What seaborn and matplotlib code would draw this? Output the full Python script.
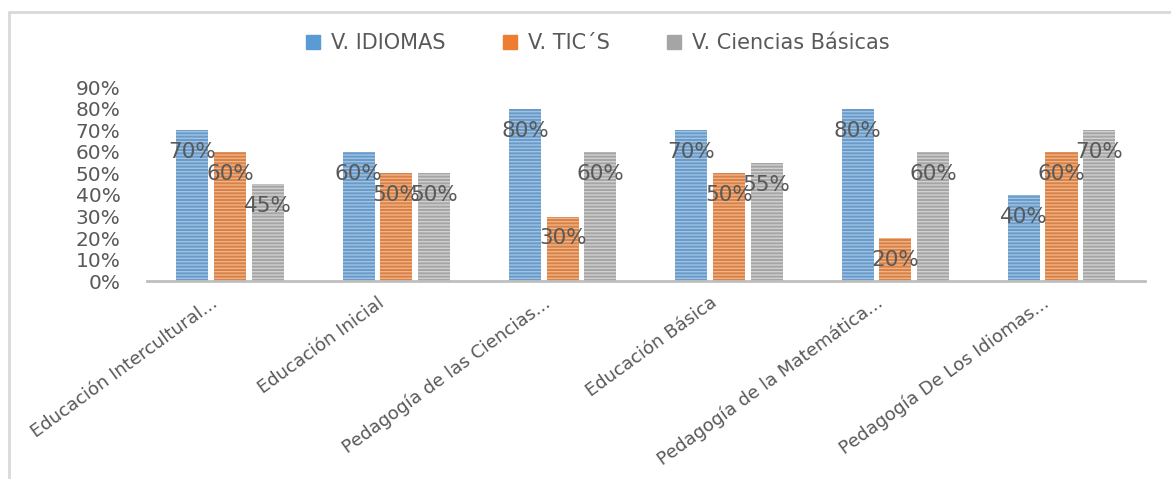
import pandas as pd
import matplotlib.pyplot as plt
import matplotlib.transforms as mtransforms
import seaborn as sns
from matplotlib.lines import Line2D
from matplotlib.ticker import PercentFormatter

# ==========================
# Data
# ==========================

carreras = [
    "Educación Intercultural...",
    "Educación Inicial",
    "Pedagogía de las Ciencias...",
    "Educación Básica",
    "Pedagogía de la Matemática...",
    "Pedagogía De Los Idiomas...",
]
series = ["V. IDIOMAS", "V. TIC´S", "V. Ciencias Básicas"]
idiomas = [0.70, 0.60, 0.80, 0.70, 0.80, 0.40]
tics = [0.60, 0.50, 0.30, 0.50, 0.20, 0.60]
ciencias = [0.45, 0.50, 0.60, 0.55, 0.60, 0.70]

colors = ["#5B9BD5", "#ED7D31", "#A5A5A5"]
stripes = ["#9DC3E6", "#F4B183", "#D0D0D0"]

df = pd.DataFrame({
    "carrera": carreras * 3,
    "serie": [s for s in series for _ in carreras],
    "valor": idiomas + tics + ciencias,
})

# ==========================
# Plot
# ==========================

sns.set_style("white")
plt.rcParams["font.family"] = ["DejaVu Sans"]
plt.rcParams["hatch.linewidth"] = 1.0

fig = plt.figure(figsize=(11.71, 4.79), dpi=100)
ax = fig.add_axes([0.1255, 0.413, 0.852, 0.405])

sns.barplot(
    data=df, x="carrera", y="valor", hue="serie",
    palette=colors, width=0.68, gap=0.15,
    ax=ax, legend=False,
)

for cont, stripe in zip(ax.containers, stripes):
    for p in cont:
        p.set_hatch("-----")
        p.set_edgecolor(stripe)
        p.set_linewidth(0)
    ax.bar_label(
        cont,
        labels=[f"{v * 100:.0f}%" for v in cont.datavalues],
        padding=-23, fontsize=15.5, color="#595959",
    )

ax.set_ylim(0, 0.9)
ax.set_yticks([i / 10 for i in range(10)])
ax.yaxis.set_major_formatter(PercentFormatter(1.0, decimals=0))
ax.set_xlim(-0.5, 5.5)
ax.set_xlabel("")
ax.set_ylabel("")

sns.despine(ax=ax, left=True)
ax.spines["bottom"].set_color("#BFBFBF")
ax.spines["bottom"].set_linewidth(2)

ax.tick_params(axis="y", length=0, labelsize=14.5, labelcolor="#595959", pad=19)
ax.tick_params(axis="x", length=0, labelsize=13, labelcolor="#595959", pad=9)
shift = mtransforms.ScaledTranslation(-14 / 72, 0, fig.dpi_scale_trans)
for lbl in ax.get_xticklabels():
    lbl.set_rotation(36)
    lbl.set_ha("right")
    lbl.set_va("top")
    lbl.set_rotation_mode("anchor")
    lbl.set_transform(lbl.get_transform() + shift)

handles = [
    Line2D([], [], marker="s", linestyle="", markersize=10,
           markerfacecolor=c, markeredgecolor=c)
    for c in colors
]
fig.legend(
    handles, series, loc="center", bbox_to_anchor=(0.509, 0.91),
    ncol=3, frameon=False, fontsize=15, labelcolor="#595959",
    handlelength=1.0, handletextpad=0.35, columnspacing=2.6,
)

# marco del gráfico
fig.add_artist(Line2D([0.008, 0.008], [0.0, 0.975], transform=fig.transFigure,
                      color="#D9D9D9", linewidth=2))
fig.add_artist(Line2D([0.008, 1.0], [0.975, 0.975], transform=fig.transFigure,
                      color="#D9D9D9", linewidth=2))

fig.savefig("out.png", dpi=100)
